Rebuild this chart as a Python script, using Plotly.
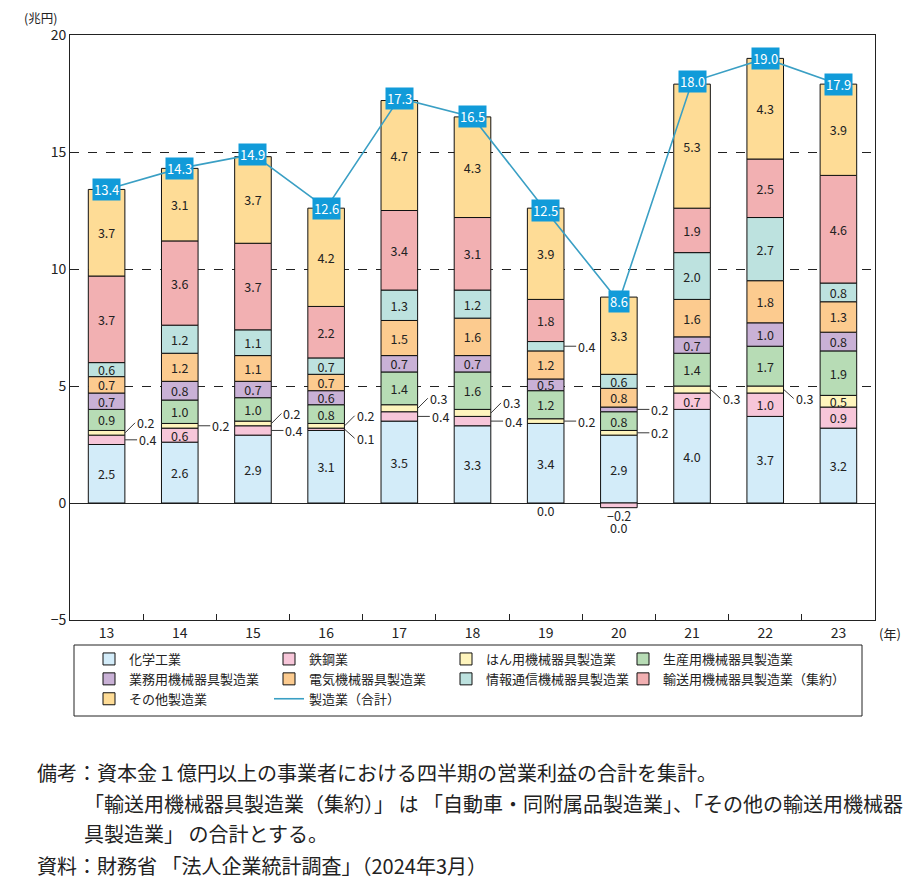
import plotly.graph_objects as go

years = ["13", "14", "15", "16", "17", "18", "19", "20", "21", "22", "23"]

series_names = [
    "化学工業", "鉄鋼業", "はん用機械器具製造業", "生産用機械器具製造業",
    "業務用機械器具製造業", "電気機械器具製造業", "情報通信機械器具製造業",
    "輸送用機械器具製造業（集約）", "その他製造業",
]
chem   = [2.5, 2.6, 2.9, 3.1, 3.5, 3.3, 3.4, 2.9, 4.0, 3.7, 3.2]
steel  = [0.4, 0.6, 0.4, 0.1, 0.4, 0.4, 0.0, -0.2, 0.7, 1.0, 0.9]
hanyo  = [0.2, 0.2, 0.2, 0.2, 0.3, 0.3, 0.2, 0.2, 0.3, 0.3, 0.5]
seisan = [0.9, 1.0, 1.0, 0.8, 1.4, 1.6, 1.2, 0.8, 1.4, 1.7, 1.9]
gyomu  = [0.7, 0.8, 0.7, 0.6, 0.7, 0.7, 0.5, 0.2, 0.7, 1.0, 0.8]
denki  = [0.7, 1.2, 1.1, 0.7, 1.5, 1.6, 1.2, 0.8, 1.6, 1.8, 1.3]
joho   = [0.6, 1.2, 1.1, 0.7, 1.3, 1.2, 0.4, 0.6, 2.0, 2.7, 0.8]
yuso   = [3.7, 3.6, 3.7, 2.2, 3.4, 3.1, 1.8, 0.0, 1.9, 2.5, 4.6]
other  = [3.7, 3.1, 3.7, 4.2, 4.7, 4.3, 3.9, 3.3, 5.3, 4.3, 3.9]
total  = [13.4, 14.3, 14.9, 12.6, 17.3, 16.5, 12.5, 8.6, 18.0, 19.0, 17.9]
total_name = "製造業（合計）"

series_values = [chem, steel, hanyo, seisan, gyomu, denki, joho, yuso, other]
colors = ["#d3ecf9", "#f7c6d9", "#fff5bd", "#b7dcb5", "#c9b1d6",
          "#fccb8f", "#bde2df", "#f2b0b2", "#fedc96"]

# labels placed outside the bar: (series index, year index, style)
# style: "h" horizontal leader, "u" diagonal up, "d" diagonal down, "bN" below axis
outside = [
    (2, 0, "u"), (1, 0, "h"),
    (2, 1, "h"),
    (2, 2, "u"), (1, 2, "h"),
    (2, 3, "u"), (1, 3, "d"),
    (2, 4, "u"), (1, 4, "h"),
    (2, 5, "u"), (1, 5, "h"),
    (6, 6, "h"), (2, 6, "h"), (1, 6, "b0"),
    (4, 7, "h"), (2, 7, "h"), (1, 7, "b0"), (7, 7, "b1"),
    (2, 8, "d"),
    (2, 9, "d"),
]
outside_set = {(s, i) for s, i, _ in outside}

FONT = "Noto Sans CJK JP"
TXT = "#222"

# page offset: browser body adds 8px margin
OX, OY = 8, 8
PL, PR, PT, PB = 70 - OX, 875 - OX, 35 - OY, 620 - OY
W, H = 910, 883
PW, PH = PR - PL, PB - PT


def px2x(px):
    return (px - OX - PL) / PW


def py2y(py):
    return (PB - (py - OY)) / PH


# legend columns (trace index -> legend id), 4 columns as in reference
legend_ids = ["legend", "legend2", "legend3", "legend4",
              "legend", "legend2", "legend3", "legend4", "legend"]
total_legend = "legend2"


def fmt(v):
    s = f"{abs(v):.1f}"
    return ("−" + s) if v < 0 else s


fig = go.Figure()
for k, (name, vals, col) in enumerate(zip(series_names, series_values, colors)):
    texts = ["" if (k, i) in outside_set else fmt(v) for i, v in enumerate(vals)]
    fig.add_trace(go.Bar(
        x=years, y=vals, name=name, legend=legend_ids[k],
        marker=dict(color=col, line=dict(color="#111", width=1)),
        text=texts, textposition="inside", insidetextanchor="middle", textangle=0,
        textfont=dict(family=FONT, size=12.5, color=TXT), constraintext="none",
        hoverinfo="skip",
    ))

fig.add_trace(go.Scatter(
    x=years, y=total, name=total_name, mode="lines", legend=total_legend,
    line=dict(color="#3a9fc4", width=1.6), hoverinfo="skip",
))

annotations = []
for i, t in enumerate(total):
    annotations.append(dict(
        x=i, y=t, text=f"{t:.1f}", showarrow=False,
        font=dict(family=FONT, size=13, color="white"),
        bgcolor="#119bd9", borderpad=1,
    ))

for s, i, style in outside:
    vals = series_values[s]
    v = vals[i]
    if style.startswith("b"):
        order = int(style[1])
        neg = sum(min(series_values[j][i], 0) for j in range(s + 1))
        annotations.append(dict(
            x=i, y=min(neg, 0), text=fmt(v), showarrow=False,
            yanchor="top", yshift=4 - 12 * order,
            font=dict(family=FONT, size=12.5, color=TXT),
        ))
        continue
    base = sum(max(series_values[j][i], 0) for j in range(s))
    mid = base + v / 2
    if style == "h":
        ax, ay = 12, 0
    elif style == "u":
        ax, ay = 10, -10
    else:
        ax, ay = 10, 9
    annotations.append(dict(
        x=i, y=mid, xshift=18.5, text=fmt(v), showarrow=True,
        arrowhead=0, arrowwidth=0.9, arrowcolor=TXT, ax=ax, ay=ay,
        xanchor="left", standoff=0,
        font=dict(family=FONT, size=12.5, color=TXT),
    ))

annotations += [
    dict(text="(兆円)", xref="paper", yref="paper", x=px2x(22), y=1.0, yshift=18,
         xanchor="left", yanchor="middle", showarrow=False,
         font=dict(family=FONT, size=12.5, color=TXT)),
    dict(text="(年)", xref="paper", yref="paper", x=1.0, y=0, xshift=2, yshift=-2,
         xanchor="left", yanchor="top", showarrow=False,
         font=dict(family=FONT, size=13, color=TXT)),
]

notes = [
    (35, 772, "備考：資本金１億円以上の事業者における四半期の営業利益の合計を集計。"),
    (82, 803, "「輸送用機械器具製造業（集約）」 は 「自動車・同附属品製造業」、「その他の輸送用機械器"),
    (82, 833, "具製造業」 の合計とする。"),
    (35, 865, "資料：財務省 「法人企業統計調査」（2024年3月）"),
]
for px, py, t in notes:
    annotations.append(dict(
        text=t, xref="paper", yref="paper", x=px2x(px), y=py2y(py),
        xanchor="left", yanchor="middle", showarrow=False,
        font=dict(family=FONT, size=20, color=TXT),
    ))

legend_common = dict(
    orientation="v", xanchor="left", yanchor="top", y=py2y(644),
    traceorder="normal", borderwidth=0, bgcolor="rgba(0,0,0,0)",
    font=dict(family=FONT, size=13, color=TXT), itemwidth=30, tracegroupgap=0,
)
text_starts = [127, 307, 484, 661]
legends = {}
for n, lid in enumerate(["legend", "legend2", "legend3", "legend4"]):
    legends[lid] = dict(legend_common, x=px2x(text_starts[n] - 38))

fig.update_layout(
    width=W, height=H,
    margin=dict(l=PL, r=W - PR, t=PT, b=H - PB),
    paper_bgcolor="white", plot_bgcolor="white",
    barmode="relative", bargap=0.5,
    font=dict(family=FONT, size=13, color=TXT),
    uniformtext=dict(minsize=12, mode="show"),
    showlegend=True,
    annotations=annotations,
    shapes=[dict(type="rect", xref="paper", yref="paper",
                 x0=px2x(74), x1=px2x(862), y0=py2y(645), y1=py2y(716),
                 line=dict(color=TXT, width=1), fillcolor="rgba(0,0,0,0)")],
    **legends,
)
fig.update_xaxes(
    type="category", range=[-0.5, 10.5], tickson="boundaries",
    ticks="inside", ticklen=6, tickcolor=TXT,
    showline=True, linecolor=TXT, linewidth=1, mirror=True,
    showgrid=False, tickfont=dict(family=FONT, size=14, color=TXT),
)
fig.update_yaxes(
    range=[-5, 20], dtick=5, tick0=0,
    showline=True, linecolor=TXT, linewidth=1, mirror=True,
    showgrid=True, gridcolor=TXT, gridwidth=0.8, griddash="dash",
    zeroline=True, zerolinecolor=TXT, zerolinewidth=1,
    ticks="", tickfont=dict(family=FONT, size=14, color=TXT),
)

fig.write_html("out.html")
